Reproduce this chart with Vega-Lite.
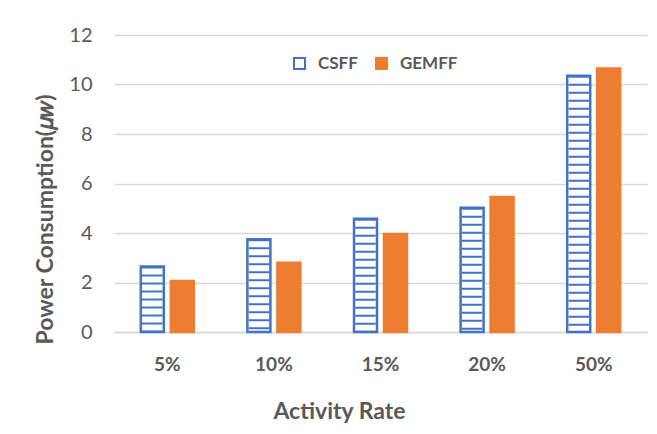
{
  "$schema": "https://vega.github.io/schema/vega-lite/v6.json",
  "width": 533,
  "height": 297,
  "autosize": {"type": "none"},
  "padding": {"left": 114, "top": 35, "right": 10, "bottom": 102},
  "background": "white",
  "config": {"view": {"stroke": null}, "font": "Lato"},
  "data": {
    "values": [
      {"Rate": "5%", "Series": "CSFF", "Power": 2.65},
      {"Rate": "5%", "Series": "GEMFF", "Power": 2.06},
      {"Rate": "10%", "Series": "CSFF", "Power": 3.75},
      {"Rate": "10%", "Series": "GEMFF", "Power": 2.8},
      {"Rate": "15%", "Series": "CSFF", "Power": 4.58},
      {"Rate": "15%", "Series": "GEMFF", "Power": 3.96},
      {"Rate": "20%", "Series": "CSFF", "Power": 5.02},
      {"Rate": "20%", "Series": "GEMFF", "Power": 5.45},
      {"Rate": "50%", "Series": "CSFF", "Power": 10.35},
      {"Rate": "50%", "Series": "GEMFF", "Power": 10.65}
    ]
  },
  "encoding": {
    "x": {
      "field": "Rate",
      "type": "nominal",
      "sort": null,
      "scale": {"paddingInner": 0.503, "paddingOuter": 0.2515},
      "axis": {
        "title": "Activity Rate",
        "labelAngle": 0,
        "labelFontSize": 19,
        "labelFontWeight": "bold",
        "labelColor": "#595959",
        "labelBaseline": "alphabetic",
        "labelPadding": 38,
        "ticks": false,
        "tickSize": 0,
        "domainColor": "#d9d9d9",
        "domainWidth": 1.5,
        "titleFontSize": 23,
        "titleFontWeight": "bold",
        "titleColor": "#595959",
        "titleBaseline": "alphabetic",
        "titleAlign": "center",
        "titleX": 225,
        "titleY": 86
      }
    },
    "xOffset": {
      "field": "Series",
      "type": "nominal",
      "scale": {"paddingInner": 0.233, "paddingOuter": 0}
    },
    "y": {
      "field": "Power",
      "type": "quantitative",
      "scale": {"domain": [0, 12]},
      "axis": {
        "title": "Power Consumption(𝜇𝑤)",
        "values": [0, 2, 4, 6, 8, 10, 12],
        "grid": true,
        "gridColor": "#d9d9d9",
        "gridWidth": 1.5,
        "domain": false,
        "ticks": false,
        "tickSize": 0,
        "labelPadding": 22,
        "labelFontSize": 20,
        "labelColor": "#595959",
        "titleFontSize": 23,
        "titleFontWeight": "bold",
        "titleColor": "#595959",
        "titleAngle": 270,
        "titleBaseline": "alphabetic",
        "titleAlign": "center",
        "titleX": -62,
        "titleY": 184
      }
    }
  },
  "layer": [
    {
      "mark": {"type": "bar", "strokeWidth": 2.5},
      "encoding": {
        "fill": {
          "field": "Series",
          "type": "nominal",
          "scale": {"domain": ["CSFF", "GEMFF"], "range": ["#ffffff", "#ED7D31"]},
          "legend": {
            "title": null,
            "orient": "none",
            "legendX": 177,
            "legendY": 20,
            "direction": "horizontal",
            "symbolType": "square",
            "symbolSize": 121,
            "symbolStrokeWidth": 2,
            "labelFontSize": 17,
            "labelFontWeight": "bold",
            "labelColor": "#595959",
            "columnPadding": 14,
            "labelOffset": 10,
            "padding": 0
          }
        },
        "stroke": {
          "field": "Series",
          "type": "nominal",
          "scale": {"domain": ["CSFF", "GEMFF"], "range": ["#4472C4", "#ED7D31"]},
          "legend": {
            "title": null,
            "orient": "none",
            "legendX": 177,
            "legendY": 20,
            "direction": "horizontal",
            "symbolType": "square",
            "symbolSize": 121,
            "symbolStrokeWidth": 2,
            "labelFontSize": 17,
            "labelFontWeight": "bold",
            "labelColor": "#595959",
            "columnPadding": 14,
            "labelOffset": 10,
            "padding": 0
          }
        }
      }
    },
    {
      "transform": [{"filter": "datum.Series === 'CSFF'"}],
      "mark": {"type": "rule", "color": "#4472C4", "strokeWidth": 20.5, "strokeDash": [2, 6]},
      "encoding": {"y2": {"datum": 0}}
    }
  ]
}
